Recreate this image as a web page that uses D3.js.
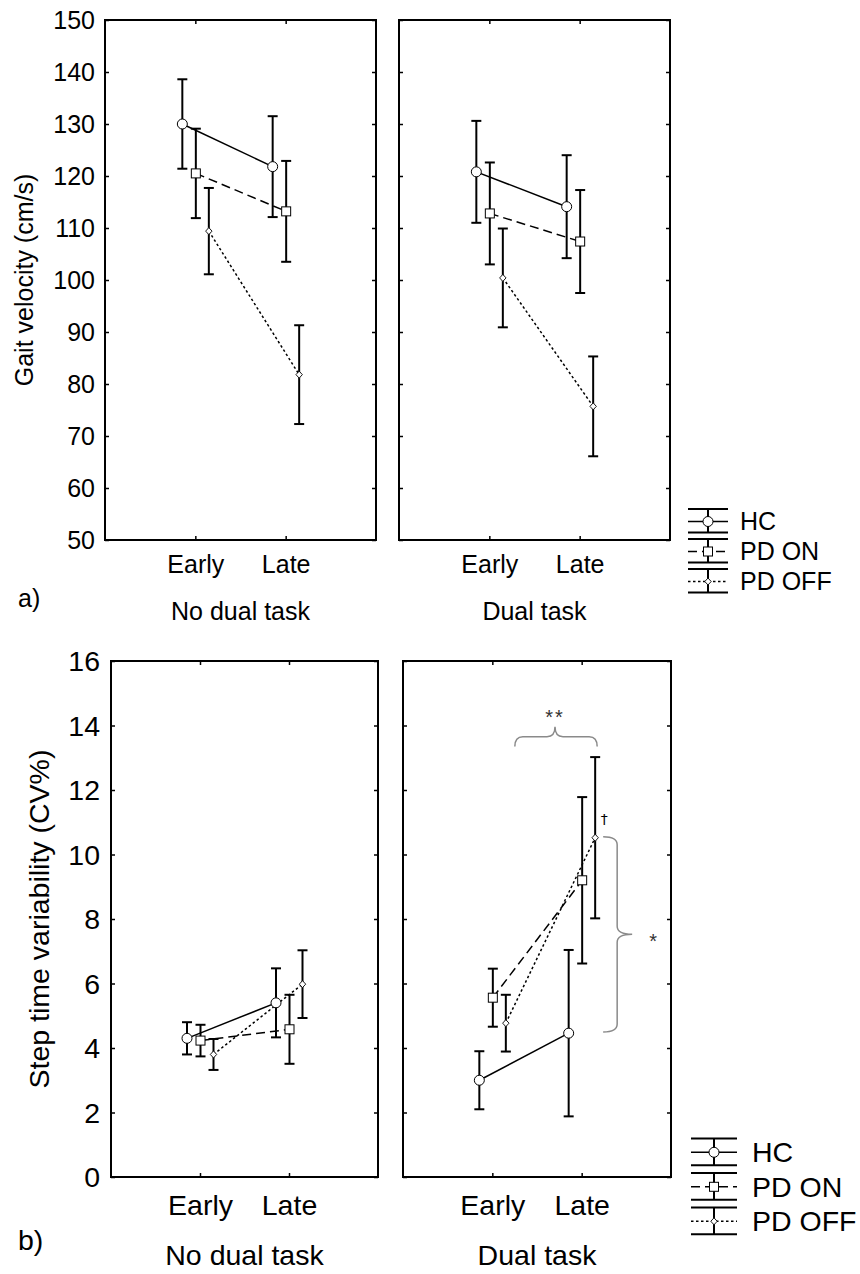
<!DOCTYPE html>
<html>
<head>
<meta charset="utf-8">
<script src="https://cdn.jsdelivr.net/npm/d3@7"></script>
<style>
  body { margin: 0; background: #fff; }
  svg { display: block; }
</style>
</head>
<body>
<svg id="chart" width="860" height="1274"></svg>
<script>
// data (rows: HC, PD ON, PD OFF; columns: Early, Late)
const groups = ["HC", "PD ON", "PD OFF"];
const phases = ["Early", "Late"];
const conditions = ["No dual task", "Dual task"];

const velTicks = [50, 60, 70, 80, 90, 100, 110, 120, 130, 140, 150];
const velNoDualMean = [[130.0, 121.8], [120.5, 113.2], [109.4, 81.8]];
const velNoDualErr = [[8.6, 9.7], [8.6, 9.7], [8.3, 9.5]];
const velDualMean = [[120.8, 114.1], [112.8, 107.4], [100.4, 75.7]];
const velDualErr = [[9.8, 9.9], [9.8, 9.9], [9.5, 9.6]];

const stvTicks = [0, 2, 4, 6, 8, 10, 12, 14, 16];
const stvNoDualMean = [[4.30, 5.40], [4.23, 4.58], [3.80, 5.98]];
const stvNoDualErr = [[0.50, 1.07], [0.49, 1.07], [0.48, 1.05]];
const stvDualMean = [[3.00, 4.46], [5.56, 9.20], [4.77, 10.52]];
const stvDualErr = [[0.90, 2.58], [0.90, 2.58], [0.88, 2.50]];

// significance marks in the dual task panel (data units)
const braceOverLate = [13.35, 13.96];   // ends, tip
const braceLateGroups = [10.55, 4.50];  // PD OFF late .. HC late
const starsOverY = 14.43;
const starSideY = 7.45;
const daggerY = 11.1;

const svg = d3.select("#chart");
const font = "'Liberation Sans', Arial, sans-serif";

// per group styles
const offsets = [-13, 0.5, 13.5];
const dashes = [null, "9,5", "2.5,2.5"];

function marker(sel, i, cx, cy) {
  if (i === 0) {
    sel.append("circle").attr("cx", cx).attr("cy", cy).attr("r", 5)
      .attr("fill", "#fff").attr("stroke", "#000").attr("stroke-width", 1);
  } else if (i === 1) {
    sel.append("rect").attr("x", cx - 4.5).attr("y", cy - 4.5)
      .attr("width", 9).attr("height", 9)
      .attr("fill", "#fff").attr("stroke", "#000").attr("stroke-width", 1);
  } else {
    sel.append("path")
      .attr("d", `M${cx},${cy - 3.5}L${cx + 3.2},${cy}L${cx},${cy + 3.5}L${cx - 3.2},${cy}Z`)
      .attr("fill", "#fff").attr("stroke", "#000").attr("stroke-width", 0.9);
  }
}

function drawChart(cfg) {
  const y = d3.scaleLinear().domain(cfg.domain).range([cfg.bottom, cfg.top]);
  const out = [];

  cfg.panels.forEach((p, pi) => {
    const x = d3.scalePoint().domain(phases).range([p.left, p.right]).padding(1);
    const g = svg.append("g");

    const axes = [
      g.append("g").attr("transform", `translate(${p.left},0)`)
        .call(d3.axisLeft(y).tickValues(cfg.ticks).tickSize(-4).tickPadding(cfg.tickPad)
          .tickFormat(pi === 0 ? d3.format("d") : "")),
      g.append("g").attr("transform", `translate(${p.right},0)`)
        .call(d3.axisRight(y).tickValues(cfg.ticks).tickSize(-4).tickFormat("")),
      g.append("g").attr("transform", `translate(0,${cfg.top})`)
        .call(d3.axisTop(x).tickSize(-4).tickFormat("")),
      g.append("g").attr("transform", `translate(0,${cfg.bottom})`)
        .call(d3.axisBottom(x).tickSize(-4))
    ];
    axes.forEach(a => {
      a.select(".domain").remove();
      a.selectAll("line").attr("stroke-width", 1.5);
      a.attr("font-family", font).attr("font-size", cfg.fontSize);
      a.selectAll("text").attr("fill", "#000");
    });
    axes[0].selectAll("text").attr("dy", "0.34em");
    axes[3].selectAll("text").attr("y", cfg.catOffset).attr("dy", "0");

    g.append("rect")
      .attr("x", p.left).attr("y", cfg.top)
      .attr("width", p.right - p.left).attr("height", cfg.bottom - cfg.top)
      .attr("fill", "none").attr("stroke", "#000").attr("stroke-width", 2);

    g.append("text")
      .attr("x", (p.left + p.right) / 2).attr("y", cfg.bottom + cfg.condOffset)
      .attr("text-anchor", "middle")
      .attr("font-family", font).attr("font-size", cfg.fontSize)
      .text(conditions[pi]);

    // error bars
    groups.forEach((grp, i) => {
      phases.forEach((ph, j) => {
        const cx = x(ph) + offsets[i];
        const m = p.mean[i][j], e = p.err[i][j];
        const eb = g.append("g").attr("stroke", "#000").attr("stroke-width", 2);
        eb.append("line").attr("x1", cx).attr("x2", cx).attr("y1", y(m - e)).attr("y2", y(m + e));
        [m - e, m + e].forEach(v => {
          eb.append("line").attr("x1", cx - 5).attr("x2", cx + 5).attr("y1", y(v)).attr("y2", y(v));
        });
      });
    });

    // connecting lines
    const line = d3.line().x(d => d[0]).y(d => d[1]);
    groups.forEach((grp, i) => {
      const pts = phases.map((ph, j) => [x(ph) + offsets[i], y(p.mean[i][j])]);
      g.append("path").attr("d", line(pts))
        .attr("fill", "none").attr("stroke", "#000").attr("stroke-width", 1.5)
        .attr("stroke-dasharray", dashes[i]);
    });

    // markers
    groups.forEach((grp, i) => {
      phases.forEach((ph, j) => marker(g, i, x(ph) + offsets[i], y(p.mean[i][j])));
    });

    out.push({ g, x });
  });

  // y axis title
  svg.append("text")
    .attr("transform", `translate(${cfg.titleX},${(cfg.top + cfg.bottom) / 2}) rotate(-90)`)
    .attr("text-anchor", "middle")
    .attr("font-family", font).attr("font-size", cfg.fontSize)
    .text(cfg.title);

  // panel letter
  svg.append("text").attr("x", 18).attr("y", cfg.letterY)
    .attr("font-family", font).attr("font-size", cfg.fontSize)
    .text(cfg.letter);

  // legend
  const lg = svg.append("g");
  groups.forEach((grp, i) => {
    const t = cfg.legend.top + i * cfg.legend.step;
    const l = cfg.legend.left, w = cfg.legend.width, cx = l + w / 2;
    const mid = t + cfg.legend.mid;
    const e = lg.append("g").attr("stroke", "#000").attr("stroke-width", 2);
    [t, t + cfg.legend.cap].forEach(v => {
      e.append("line").attr("x1", l).attr("x2", l + w).attr("y1", v).attr("y2", v);
    });
    e.append("line").attr("x1", cx).attr("x2", cx).attr("y1", t).attr("y2", t + cfg.legend.cap);
    lg.append("line").attr("x1", l).attr("x2", l + w).attr("y1", mid).attr("y2", mid)
      .attr("stroke", "#000").attr("stroke-width", 1.5).attr("stroke-dasharray", dashes[i]);
    marker(lg, i, cx, mid);
    lg.append("text").attr("x", cfg.legend.textX).attr("y", mid).attr("dy", "0.35em")
      .attr("font-family", font).attr("font-size", cfg.fontSize)
      .text(grp);
  });

  return { y, panels: out };
}

drawChart({
  domain: [50, 150], ticks: velTicks, top: 20, bottom: 540,
  fontSize: 25, tickPad: 10, catOffset: 33, condOffset: 80,
  title: "Gait velocity (cm/s)", titleX: 33, letter: "a)", letterY: 607,
  panels: [
    { left: 105, right: 376, mean: velNoDualMean, err: velNoDualErr },
    { left: 399, right: 670, mean: velDualMean, err: velDualErr }
  ],
  legend: { left: 688, width: 40, top: 509, step: 30, cap: 23.5, mid: 12.5, textX: 740 }
});

const b = drawChart({
  domain: [0, 16], ticks: stvTicks, top: 661, bottom: 1177,
  fontSize: 28.5, tickPad: 11, catOffset: 38, condOffset: 88,
  title: "Step time variability (CV%)", titleX: 49, letter: "b)", letterY: 1250,
  panels: [
    { left: 111, right: 378, mean: stvNoDualMean, err: stvNoDualErr },
    { left: 403, right: 671, mean: stvDualMean, err: stvDualErr }
  ],
  legend: { left: 691, width: 46, top: 1138.5, step: 34.5, cap: 26.8, mid: 13.8, textX: 752 }
});

// significance annotations, dual task panel
const dy = b.y, dx = b.panels[1].x, ann = b.panels[1].g;
const r = 8;
{
  const x1 = dx("Early") + offsets[2] + 9, x2 = dx("Late") + offsets[2] + 2;
  const xm = (x1 + x2) / 2 - 1;
  const yEnd = dy(braceOverLate[0]), yTip = dy(braceOverLate[1]);
  const yMid = (yEnd + yTip) / 2;
  ann.append("path")
    .attr("d", `M${x1},${yEnd}Q${x1},${yMid} ${x1 + r},${yMid}L${xm - r},${yMid}` +
      `Q${xm},${yMid} ${xm},${yTip}Q${xm},${yMid} ${xm + r},${yMid}L${x2 - r},${yMid}` +
      `Q${x2},${yMid} ${x2},${yEnd}`)
    .attr("fill", "none").attr("stroke", "#8a8a8a").attr("stroke-width", 1.5);
  ann.append("text").attr("x", xm).attr("y", dy(starsOverY) + 12)
    .attr("text-anchor", "middle").attr("font-family", font).attr("font-size", 20)
    .attr("letter-spacing", 2).attr("fill", "#333").text("**");
}
{
  const xs = dx("Late") + offsets[2] + 8, xl = xs + 14, xt = xl + 15;
  const yA = dy(braceLateGroups[0]), yB = dy(braceLateGroups[1]);
  const ym = (yA + yB) / 2;
  ann.append("path")
    .attr("d", `M${xs},${yA}Q${xl},${yA} ${xl},${yA + r}L${xl},${ym - r}` +
      `Q${xl},${ym} ${xt},${ym}Q${xl},${ym} ${xl},${ym + r}L${xl},${yB - r}` +
      `Q${xl},${yB} ${xs},${yB}`)
    .attr("fill", "none").attr("stroke", "#8a8a8a").attr("stroke-width", 1.5);
  ann.append("text").attr("x", xt + 21).attr("y", dy(starSideY) + 11)
    .attr("text-anchor", "middle").attr("font-family", font).attr("font-size", 20)
    .attr("fill", "#333").text("*");
  ann.append("text").attr("x", dx("Late") + offsets[2] + 9).attr("y", dy(daggerY) + 5)
    .attr("text-anchor", "middle").attr("font-family", "'DejaVu Sans', sans-serif").attr("font-size", 14)
    .attr("fill", "#000").text("\u2020");
}
</script>
</body>
</html>
